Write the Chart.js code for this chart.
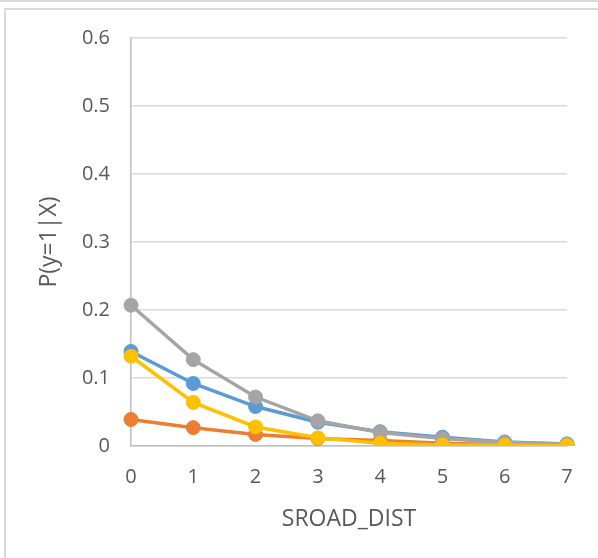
<!DOCTYPE html>
<html>
<head>
<meta charset="utf-8">
<script src="https://cdn.jsdelivr.net/npm/chart.js@4/dist/chart.umd.min.js"></script>
<style>
  html, body { margin: 0; padding: 0; background: #fff; }
  body { width: 598px; height: 558px; position: relative; overflow: hidden; }
  #topline { position: absolute; left: 0; top: 0; width: 598px; height: 2px; background: #d9d9d9; }
  #box { position: absolute; left: 4px; top: 8px; width: 600px; height: 560px; border-top: 2px solid #d9d9d9; border-left: 2px solid #d9d9d9; box-sizing: border-box; }
  #wrap { position: absolute; left: 0; top: 0; width: 598px; height: 558px; }
</style>
</head>
<body>
<div id="topline"></div>
<div id="box"></div>
<div id="wrap"><canvas id="c" width="598" height="558"></canvas></div>
<script>
const categories = ['0', '1', '2', '3', '4', '5', '6', '7'];
const seriesBlue   = [0.139, 0.092, 0.058, 0.035, 0.021, 0.013, 0.006, 0.003];
const seriesOrange = [0.039, 0.027, 0.017, 0.011, 0.008, 0.004, 0.002, 0.001];
const seriesGray   = [0.207, 0.127, 0.072, 0.037, 0.020, 0.011, 0.005, 0.003];
const seriesYellow = [0.132, 0.064, 0.028, 0.012, 0.004, 0.0015, 0.001, 0.0005];
const yTicks = [0, 0.1, 0.2, 0.3, 0.4, 0.5, 0.6];
const xTitle = 'SROAD_DIST';
const yTitle = 'P(y=1|X)';

const FONT = "'Open Sans', sans-serif";
const TXT = '#595959';

function ds(data, color, order) {
  return {
    data: data,
    borderColor: color,
    backgroundColor: color,
    pointBackgroundColor: color,
    pointBorderColor: color,
    borderWidth: 3.5,
    pointRadius: 7,
    pointBorderWidth: 1,
    tension: 0,
    order: order
  };
}

new Chart(document.getElementById('c'), {
  type: 'line',
  data: {
    labels: categories,
    datasets: [
      ds(seriesBlue, '#5B9BD5', 4),
      ds(seriesOrange, '#ED7D31', 3),
      ds(seriesGray, '#A5A5A5', 2),
      ds(seriesYellow, '#FFC000', 1)
    ]
  },
  options: {
    responsive: false,
    animation: false,
    devicePixelRatio: 1,
    layout: { padding: { left: 0, top: 38, right: 31, bottom: 0 } },
    plugins: { legend: { display: false }, tooltip: { enabled: false } },
    scales: {
      x: {
        type: 'category',
        offset: false,
        grid: { display: false, drawTicks: false },
        border: { display: true, color: '#bfbfbf', width: 1.5 },
        ticks: { color: TXT, font: { family: FONT, size: 20 }, padding: 19, maxRotation: 0 },
        title: { display: true, text: xTitle, color: TXT, font: { family: FONT, size: 23 }, padding: { top: 0, bottom: 25 } },
        afterFit: (s) => { s.height = 112; }
      },
      y: {
        min: 0, max: 0.6,
        afterBuildTicks: (s) => { s.ticks = yTicks.map(v => ({ value: v })); },
        grid: { color: '#d9d9d9', lineWidth: 1.5, drawTicks: false },
        border: { display: true, color: '#bfbfbf', width: 1.5 },
        ticks: { color: TXT, font: { family: FONT, size: 20 }, padding: 21, callback: (v) => String(v) },
        title: { display: true, text: yTitle, color: TXT, font: { family: FONT, size: 23 }, padding: { top: 36, bottom: 0 } },
        afterFit: (s) => { s.width = 131; }
      }
    }
  }
});
</script>
</body>
</html>
